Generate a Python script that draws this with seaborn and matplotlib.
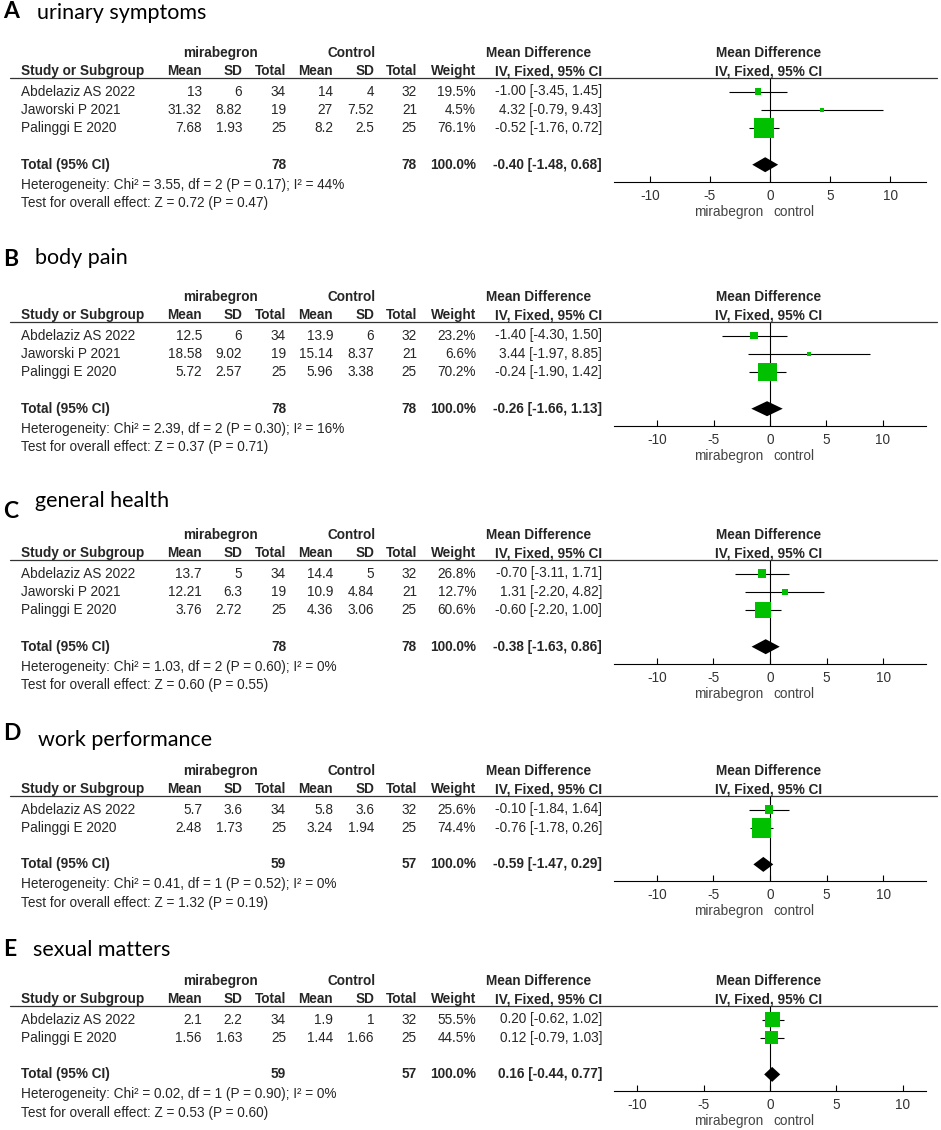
import matplotlib
matplotlib.use("Agg")
from matplotlib import pyplot as plt
from matplotlib.lines import Line2D
import seaborn as sns

# ---------------- data ----------------
letters = ["A", "B", "C", "D", "E"]
titles = ["urinary symptoms", "body pain", "general health", "work performance", "sexual matters"]

studies_3 = ["Abdelaziz AS 2022", "Jaworski P 2021", "Palinggi E 2020"]
studies_2 = ["Abdelaziz AS 2022", "Palinggi E 2020"]

# A urinary symptoms
a_mir_mean = [13, 31.32, 7.68]
a_mir_sd = [6, 8.82, 1.93]
a_mir_n = [34, 19, 25]
a_ctl_mean = [14, 27, 8.2]
a_ctl_sd = [4, 7.52, 2.5]
a_ctl_n = [32, 21, 25]
a_weight = [19.5, 4.5, 76.1]
a_md = [-1.00, 4.32, -0.52]
a_lo = [-3.45, -0.79, -1.76]
a_hi = [1.45, 9.43, 0.72]
a_total = [78, 78, -0.40, -1.48, 0.68]
a_het = "Heterogeneity: Chi² = 3.55, df = 2 (P = 0.17); I² = 44%"
a_test = "Test for overall effect: Z = 0.72 (P = 0.47)"

# B body pain
b_mir_mean = [12.5, 18.58, 5.72]
b_mir_sd = [6, 9.02, 2.57]
b_mir_n = [34, 19, 25]
b_ctl_mean = [13.9, 15.14, 5.96]
b_ctl_sd = [6, 8.37, 3.38]
b_ctl_n = [32, 21, 25]
b_weight = [23.2, 6.6, 70.2]
b_md = [-1.40, 3.44, -0.24]
b_lo = [-4.30, -1.97, -1.90]
b_hi = [1.50, 8.85, 1.42]
b_total = [78, 78, -0.26, -1.66, 1.13]
b_het = "Heterogeneity: Chi² = 2.39, df = 2 (P = 0.30); I² = 16%"
b_test = "Test for overall effect: Z = 0.37 (P = 0.71)"

# C general health
c_mir_mean = [13.7, 12.21, 3.76]
c_mir_sd = [5, 6.3, 2.72]
c_mir_n = [34, 19, 25]
c_ctl_mean = [14.4, 10.9, 4.36]
c_ctl_sd = [5, 4.84, 3.06]
c_ctl_n = [32, 21, 25]
c_weight = [26.8, 12.7, 60.6]
c_md = [-0.70, 1.31, -0.60]
c_lo = [-3.11, -2.20, -2.20]
c_hi = [1.71, 4.82, 1.00]
c_total = [78, 78, -0.38, -1.63, 0.86]
c_het = "Heterogeneity: Chi² = 1.03, df = 2 (P = 0.60); I² = 0%"
c_test = "Test for overall effect: Z = 0.60 (P = 0.55)"

# D work performance
d_mir_mean = [5.7, 2.48]
d_mir_sd = [3.6, 1.73]
d_mir_n = [34, 25]
d_ctl_mean = [5.8, 3.24]
d_ctl_sd = [3.6, 1.94]
d_ctl_n = [32, 25]
d_weight = [25.6, 74.4]
d_md = [-0.10, -0.76]
d_lo = [-1.84, -1.78]
d_hi = [1.64, 0.26]
d_total = [59, 57, -0.59, -1.47, 0.29]
d_het = "Heterogeneity: Chi² = 0.41, df = 1 (P = 0.52); I² = 0%"
d_test = "Test for overall effect: Z = 1.32 (P = 0.19)"

# E sexual matters
e_mir_mean = [2.1, 1.56]
e_mir_sd = [2.2, 1.63]
e_mir_n = [34, 25]
e_ctl_mean = [1.9, 1.44]
e_ctl_sd = [1, 1.66]
e_ctl_n = [32, 25]
e_weight = [55.5, 44.5]
e_md = [0.20, 0.12]
e_lo = [-0.62, -0.79]
e_hi = [1.02, 1.03]
e_total = [59, 57, 0.16, -0.44, 0.77]
e_het = "Heterogeneity: Chi² = 0.02, df = 1 (P = 0.90); I² = 0%"
e_test = "Test for overall effect: Z = 0.53 (P = 0.60)"

ticks = [-10, -5, 0, 5, 10]

panels = [
    (studies_3, a_mir_mean, a_mir_sd, a_mir_n, a_ctl_mean, a_ctl_sd, a_ctl_n,
     a_weight, a_md, a_lo, a_hi, a_total, a_het, a_test),
    (studies_3, b_mir_mean, b_mir_sd, b_mir_n, b_ctl_mean, b_ctl_sd, b_ctl_n,
     b_weight, b_md, b_lo, b_hi, b_total, b_het, b_test),
    (studies_3, c_mir_mean, c_mir_sd, c_mir_n, c_ctl_mean, c_ctl_sd, c_ctl_n,
     c_weight, c_md, c_lo, c_hi, c_total, c_het, c_test),
    (studies_2, d_mir_mean, d_mir_sd, d_mir_n, d_ctl_mean, d_ctl_sd, d_ctl_n,
     d_weight, d_md, d_lo, d_hi, d_total, d_het, d_test),
    (studies_2, e_mir_mean, e_mir_sd, e_mir_n, e_ctl_mean, e_ctl_sd, e_ctl_n,
     e_weight, e_md, e_lo, e_hi, e_total, e_het, e_test),
]

# ---------------- layout (pixels) ----------------
W, H = 941, 1130
line_y = [78, 322, 560, 796, 1006]
letter_y = [12, 260, 511, 733, 950]
title_y = [13, 258, 501, 740, 950]
title_x = [37, 35, 35, 38, 33]
half_range = [13.0, 13.85, 13.8, 13.8, 11.75]
PITCH = 18.3
col_right = [202, 242, 286, 333, 374, 417, 476, 602]
FX0, FX1 = 614, 926
GREEN = "#00c000"
TXT = "#262626"
FS = 9.8

sns.set_style("white")
plt.rcParams['font.family'] = ['Liberation Sans', 'DejaVu Sans']

fig = plt.figure(figsize=(W / 100, H / 100), dpi=100)


def ftext(x, y, s, **kw):
    kw.setdefault("fontsize", FS)
    kw.setdefault("color", TXT)
    kw.setdefault("va", "center")
    fig.text(x / W, 1 - y / H, s, **kw)


def fmt(v):
    return f"{v:g}"


for p, panel in enumerate(panels):
    (studies, mm, msd, mn, cm, csd, cn, wt, md, lo, hi, tot, het, test) = panel
    ly = line_y[p]
    n = len(studies)
    tot_idx = n + 1
    row_y = [ly + 13.5 + i * PITCH for i in range(n)]
    tot_y = ly + 13.5 + tot_idx * PITCH
    axis_y = tot_y + 17

    # title
    ftext(3, letter_y[p], letters[p], fontsize=16.5, fontweight="bold",
          family=["Lato", "DejaVu Sans"], color="black")
    ftext(title_x[p], title_y[p], titles[p], fontsize=15.5,
          family=["Lato", "DejaVu Sans"], color="black")

    # headers
    ftext(220, ly - 25, "mirabegron", ha="center", fontweight="bold")
    ftext(352, ly - 25, "Control", ha="center", fontweight="bold")
    ftext(539, ly - 25, "Mean Difference", ha="center", fontweight="bold")
    ftext(769, ly - 25, "Mean Difference", ha="center", fontweight="bold")
    ftext(21, ly - 7, "Study or Subgroup", fontweight="bold")
    for x, s in zip(col_right, ["Mean", "SD", "Total", "Mean", "SD", "Total",
                                "Weight", "IV, Fixed, 95% CI"]):
        ftext(x, ly - 7, s, ha="right", fontweight="bold")
    ftext(769, ly - 7, "IV, Fixed, 95% CI", ha="center", fontweight="bold")
    fig.add_artist(Line2D([10 / W, 937 / W], [1 - ly / H, 1 - ly / H],
                          color="#333333", lw=0.9))

    # study rows
    for i in range(n):
        y = row_y[i]
        ftext(21, y, studies[i])
        vals = [fmt(mm[i]), fmt(msd[i]), str(mn[i]), fmt(cm[i]), fmt(csd[i]),
                str(cn[i]), f"{wt[i]:.1f}%",
                f"{md[i]:.2f} [{lo[i]:.2f}, {hi[i]:.2f}]"]
        for x, s in zip(col_right, vals):
            ftext(x, y, s, ha="right")

    # total rows
    ftext(21, tot_y, "Total (95% CI)", fontweight="bold")
    ftext(col_right[2], tot_y, str(tot[0]), ha="right", fontweight="bold")
    ftext(col_right[5], tot_y, str(tot[1]), ha="right", fontweight="bold")
    ftext(col_right[6], tot_y, "100.0%", ha="right", fontweight="bold")
    ftext(col_right[7], tot_y, f"{tot[2]:.2f} [{tot[3]:.2f}, {tot[4]:.2f}]",
          ha="right", fontweight="bold")
    ftext(21, tot_y + 20, het)
    ftext(21, tot_y + 38.5, test)

    # forest plot
    ax = fig.add_axes([FX0 / W, 1 - axis_y / H, (FX1 - FX0) / W, (axis_y - ly) / H])
    ax.patch.set_alpha(0)
    xr = half_range[p]
    ax.set_xlim(-xr, xr)
    ax.set_ylim(tot_idx + 17 / PITCH, -13.5 / PITCH)
    rows = list(range(n))
    ax.axvline(0, color="black", lw=0.8, zorder=1)
    ax.hlines(rows, lo, hi, color="black", lw=0.8, zorder=2)
    sizes = [((2.5 + 0.23 * w) * 0.72) ** 2 for w in wt]
    sns.scatterplot(x=md, y=rows, marker="s", s=sizes, color=GREEN,
                    linewidth=0, edgecolor="none", legend=False, ax=ax, zorder=3)
    dh = 7.5 / PITCH
    ax.fill([tot[3], tot[2], tot[4], tot[2]],
            [tot_idx, tot_idx - dh, tot_idx, tot_idx + dh],
            color="black", lw=0, zorder=3)
    for side in ["top", "left", "right"]:
        ax.spines[side].set_visible(False)
    ax.spines["bottom"].set_color("black")
    ax.spines["bottom"].set_linewidth(0.8)
    ax.set_xticks(ticks)
    ax.set_xticklabels([str(t) for t in ticks])
    ax.set_yticks([])
    ax.set_xlabel("")
    ax.set_ylabel("")
    ax.tick_params(axis="x", direction="in", length=4.5, width=0.8, color="black",
                   labelsize=FS, labelcolor="#333333", pad=5, bottom=True)
    ax.grid(False)

    x0 = FX0 + (FX1 - FX0) * 0.5
    ftext(x0 - 7, axis_y + 30, "mirabegron", ha="right", color="#444444")
    ftext(x0 + 3, axis_y + 30, "control", ha="left", color="#444444")

fig.savefig("out.png", dpi=100)
